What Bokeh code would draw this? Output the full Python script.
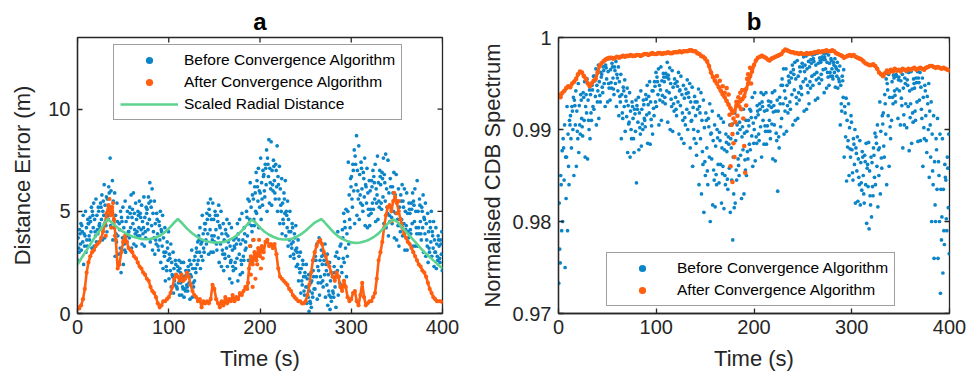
from bokeh.plotting import figure
from bokeh.layouts import row
from bokeh.models import Range1d, FixedTicker, Legend, LegendItem, CustomJSTickFormatter
from bokeh.embed import file_html
from bokeh.resources import INLINE

# ---------------- data ----------------
X_TICKS = [0, 100, 200, 300, 400]
Y_TICKS_A = [0, 5, 10]
Y_TICKS_B = [0.97, 0.98, 0.99, 1.0]

# panel a : scaled radial distance (green line)
green_t = [0, 5, 10, 15, 20, 25, 30, 33, 35, 40, 45, 50, 55, 60, 65, 70, 75, 80, 85, 90,
           95, 100, 105, 110, 115, 120, 125, 130, 135, 140, 145, 150, 155, 160, 165, 170,
           175, 180, 185, 191, 195, 200, 205, 210, 215, 220, 225, 230, 235, 240, 245, 250,
           255, 260, 267, 270, 275, 280, 285, 290, 295, 300, 305, 310, 315, 320, 325, 330,
           335, 340, 346, 350, 355, 360, 365, 370, 375, 380, 385, 390, 395, 400]
green_v = [2.4, 2.75, 3.1, 3.45, 3.8, 4.1, 4.45, 4.62, 4.55, 4.35, 4.15, 4.0, 3.87, 3.77,
           3.7, 3.65, 3.63, 3.65, 3.7, 3.8, 3.95, 4.15, 4.4, 4.62, 4.4, 4.15, 3.95, 3.78,
           3.65, 3.55, 3.5, 3.47, 3.47, 3.5, 3.57, 3.68, 3.83, 4.05, 4.3, 4.6, 4.45, 4.2,
           4.0, 3.85, 3.74, 3.66, 3.62, 3.62, 3.66, 3.75, 3.88, 4.05, 4.25, 4.45, 4.62, 4.5,
           4.25, 4.0, 3.8, 3.65, 3.55, 3.48, 3.45, 3.47, 3.53, 3.62, 3.75, 3.92, 4.15, 4.4,
           4.6, 4.5, 4.25, 4.0, 3.75, 3.5, 3.25, 3.0, 2.8, 2.6, 2.4, 2.2]

# panel a : after convergence (every 2 s, t = 0..400)
ORANGE_STEP = 2
orange_a = [
    0.3, 0.25, 0.4, 0.7, 1.2, 2.0, 2.5, 2.8, 3.0, 3.1,
    3.3, 3.4, 3.5, 3.7, 4.0, 4.4, 4.9, 5.3, 4.8, 5.2,
    4.6, 3.6, 2.2, 2.4, 3.0, 3.5, 3.8, 3.5, 3.2, 3.1,
    3.0, 2.8, 2.7, 2.5, 2.3, 2.2, 2.0, 1.9, 1.7, 1.6,
    1.3, 1.1, 1.0, 0.8, 0.5, 0.3, 0.4, 0.6, 0.6, 0.7,
    0.8, 1.0, 1.3, 1.7, 1.9, 1.8, 1.6, 1.9, 1.6, 1.7,
    2.0, 1.8, 1.4, 1.1, 0.9, 0.8, 0.6, 0.7, 0.3, 0.6,
    0.5, 0.6, 0.5, 0.7, 1.4, 1.2, 0.7, 0.5, 0.3, 0.6,
    0.4, 0.8, 0.5, 0.7, 0.6, 0.9, 0.6, 0.8, 0.7, 1.0,
    0.9, 1.1, 1.3, 1.2, 2.2, 2.8, 2.4, 3.0, 2.6, 3.2,
    2.8, 3.3, 3.0, 3.5, 3.6, 3.3, 3.4, 3.2, 3.4, 2.9,
    2.2, 1.8, 1.7, 1.6, 1.5, 1.4, 1.2, 1.1, 0.9, 0.8,
    0.7, 0.6, 0.6, 0.5, 0.5, 0.6, 0.9, 1.4, 2.0, 2.6,
    3.0, 3.3, 3.5, 3.6, 3.4, 3.0, 2.8, 2.5, 2.3, 2.0,
    1.8, 1.6, 2.0, 1.8, 1.3, 1.1, 1.6, 1.3, 0.8, 0.6,
    0.7, 1.0, 1.1, 0.6, 0.4, 0.9, 1.5, 0.8, 0.4, 0.5,
    0.6, 0.6, 0.8, 1.0, 1.7, 2.6, 3.0, 3.5, 4.2, 4.8,
    5.2, 5.3, 5.0, 5.5, 5.7, 5.4, 5.0, 4.6, 4.2, 3.9,
    3.7, 3.5, 3.4, 3.2, 3.0, 2.8, 2.6, 2.4, 2.3, 2.1,
    2.0, 1.8, 1.5, 1.2, 1.0, 0.8, 0.7, 0.6, 0.6, 0.6,
    0.55]
orange_a_extra_t = [31, 33, 35, 37, 39, 41, 187, 189, 190, 192, 193, 195, 197, 199, 201,
                    203, 344, 347, 350, 352, 355]
orange_a_extra_v = [3.8, 4.6, 5.6, 4.2, 5.4, 3.8, 1.5, 3.3, 1.9, 1.3, 3.6, 1.7, 2.4, 3.6,
                    2.2, 2.7, 4.5, 5.9, 4.9, 5.5, 4.4]

# panel a : before convergence, readings per 4 s window (spread + dense core)
BUCKET = 4
blue_a = [
    [2.6, 3.0, 3.4, 3.7, 4.1, 4.4], [2.4, 3.1, 3.5, 3.9, 4.3, 4.8],
    [3.0, 3.3, 3.8, 4.2, 4.6, 5.0], [3.2, 3.6, 4.0, 4.4, 4.7, 5.2],
    [3.3, 3.8, 4.2, 4.6, 5.0, 5.4], [3.5, 3.9, 4.3, 4.8, 5.2, 5.6],
    [3.6, 4.2, 4.6, 5.0, 5.4, 5.8], [3.7, 4.3, 4.8, 5.3, 5.7, 6.3],
    [4.0, 4.6, 5.1, 5.6, 6.2, 7.6], [3.6, 4.3, 4.9, 5.5, 6.0, 6.5],
    [2.8, 3.5, 4.2, 4.8, 5.4, 5.9], [2.0, 2.5, 3.2, 3.8, 4.4, 5.0],
    [2.4, 3.1, 3.7, 4.2, 4.7, 5.2], [3.0, 3.5, 4.0, 4.5, 5.0, 5.5],
    [3.2, 3.7, 4.2, 4.7, 5.2, 5.8], [3.4, 3.9, 4.4, 4.9, 5.4, 5.9],
    [3.3, 3.8, 4.2, 4.6, 5.0, 5.5], [3.4, 3.8, 4.1, 4.5, 4.9, 5.3],
    [3.3, 3.7, 4.2, 4.7, 5.2, 5.7], [3.5, 4.1, 4.6, 5.1, 5.7, 6.4],
    [3.1, 3.7, 4.3, 4.9, 5.5, 6.1], [2.9, 3.4, 3.9, 4.4, 4.9, 5.5],
    [2.5, 3.1, 3.6, 4.1, 4.5, 5.0], [2.2, 2.8, 3.3, 3.7, 4.2, 4.8],
    [1.6, 2.1, 2.6, 3.0, 3.5, 4.0], [1.3, 1.7, 2.1, 2.5, 2.9, 3.4],
    [1.0, 1.4, 1.8, 2.2, 2.6, 3.0], [0.9, 1.2, 1.5, 1.9, 2.3, 2.6],
    [0.9, 1.2, 1.5, 1.8, 2.2, 2.5], [0.8, 1.1, 1.4, 1.8, 2.1, 2.5],
    [0.7, 1.1, 1.5, 1.9, 2.3, 2.6], [0.8, 1.3, 1.8, 2.2, 2.6, 3.1],
    [1.6, 2.0, 2.4, 2.8, 3.2, 3.5], [2.2, 2.6, 3.0, 3.4, 3.8, 4.2],
    [2.6, 3.0, 3.5, 3.9, 4.4, 4.8], [2.9, 3.4, 3.9, 4.4, 4.9, 5.4],
    [3.0, 3.6, 4.1, 4.6, 5.1, 5.6], [3.0, 3.5, 4.1, 4.6, 5.0, 5.4],
    [2.5, 3.1, 3.7, 4.3, 4.8, 5.3], [2.3, 2.9, 3.4, 3.9, 4.4, 5.0],
    [2.1, 2.7, 3.2, 3.6, 4.1, 4.6], [1.7, 2.3, 2.8, 3.3, 3.8, 4.4],
    [1.5, 2.1, 2.6, 3.1, 3.6, 4.2], [1.6, 2.2, 2.7, 3.2, 3.7, 4.4],
    [1.9, 2.4, 2.9, 3.4, 3.9, 4.6], [2.0, 2.6, 3.1, 3.6, 4.2, 4.9],
    [2.6, 3.2, 3.8, 4.4, 5.0, 5.6], [3.3, 4.0, 4.6, 5.2, 5.8, 6.4],
    [3.6, 4.3, 5.0, 5.6, 6.2, 6.9], [4.2, 4.9, 5.5, 6.0, 6.5, 7.1],
    [4.6, 5.3, 5.9, 6.4, 7.0, 7.6], [5.0, 5.7, 6.3, 6.8, 7.3, 8.0],
    [5.4, 6.1, 6.7, 7.1, 7.6, 8.5], [5.3, 6.0, 6.5, 7.0, 7.5, 8.4],
    [5.0, 5.6, 6.2, 6.7, 7.3, 8.2], [4.4, 5.0, 5.6, 6.1, 6.6, 7.2],
    [3.9, 4.4, 4.9, 5.4, 5.9, 6.5], [3.3, 3.8, 4.2, 4.6, 5.0, 5.5],
    [2.8, 3.2, 3.6, 4.0, 4.4, 5.0], [2.3, 2.7, 3.1, 3.5, 3.9, 4.3],
    [1.6, 2.0, 2.4, 2.8, 3.2, 3.6], [1.0, 1.4, 1.8, 2.2, 2.6, 3.0],
    [0.5, 0.9, 1.3, 1.7, 2.0, 2.4], [0.1, 0.5, 0.8, 1.1, 1.5, 1.9],
    [0.3, 0.8, 1.2, 1.6, 2.1, 2.6], [0.7, 1.2, 1.8, 2.3, 2.8, 3.4],
    [0.9, 1.5, 2.1, 2.6, 3.1, 3.7], [0.8, 1.3, 1.9, 2.4, 2.9, 3.4],
    [0.4, 0.9, 1.4, 1.9, 2.4, 2.9], [0.2, 0.6, 1.1, 1.6, 2.0, 2.5],
    [0.3, 0.8, 1.3, 1.8, 2.3, 2.8], [0.9, 1.5, 2.1, 2.7, 3.3, 4.0],
    [1.4, 2.0, 2.7, 3.4, 4.1, 4.9], [1.8, 2.5, 3.2, 3.9, 4.5, 5.1],
    [3.4, 4.2, 5.0, 5.8, 6.6, 7.4], [4.4, 5.2, 6.0, 6.7, 7.3, 8.0],
    [4.8, 5.6, 6.3, 7.0, 7.7, 8.7], [4.6, 5.4, 6.1, 6.8, 7.4, 8.2],
    [4.3, 5.0, 5.7, 6.3, 6.9, 7.6], [4.2, 4.8, 5.4, 5.9, 6.5, 7.1],
    [4.3, 4.9, 5.4, 6.0, 6.5, 7.0], [4.5, 5.1, 5.6, 6.1, 6.7, 7.3],
    [4.6, 5.2, 5.8, 6.4, 7.0, 7.7], [4.4, 5.1, 5.7, 6.3, 6.9, 7.6],
    [4.2, 4.9, 5.5, 6.1, 6.8, 7.8], [3.8, 4.5, 5.2, 5.9, 6.6, 7.5],
    [3.7, 4.4, 5.0, 5.6, 6.2, 6.9], [3.6, 4.3, 4.9, 5.5, 6.1, 6.8],
    [3.3, 4.0, 4.6, 5.2, 5.8, 6.3], [3.1, 3.8, 4.4, 5.0, 5.5, 6.1],
    [3.1, 3.7, 4.3, 4.9, 5.4, 5.9], [3.3, 3.9, 4.4, 4.9, 5.4, 5.9],
    [3.3, 3.9, 4.5, 5.0, 5.5, 6.1], [3.3, 3.9, 4.5, 5.0, 5.6, 6.5],
    [3.0, 3.6, 4.2, 4.7, 5.2, 5.8], [2.8, 3.3, 3.9, 4.4, 4.9, 5.4],
    [2.5, 3.0, 3.5, 4.0, 4.5, 5.0], [2.3, 2.8, 3.2, 3.6, 4.0, 4.5],
    [2.2, 2.6, 3.0, 3.4, 3.8, 4.2], [2.1, 2.5, 2.9, 3.3, 3.6, 4.0],
]
blue_a_core = [
    [3.2, 3.9], [3.3, 4.0], [3.6, 4.4], [3.8, 4.5], [4.0, 4.8], [4.1, 5.0], [4.4, 5.2],
    [4.5, 5.5], [4.8, 5.9], [4.6, 5.2], [3.9, 4.5], [2.9, 4.1], [3.4, 4.5], [3.8, 4.7],
    [4.0, 4.9], [4.1, 5.1], [4.0, 4.8], [3.9, 4.7], [4.0, 4.9], [4.4, 5.4], [4.0, 5.2],
    [3.6, 4.6], [3.3, 4.3], [3.0, 4.0], [2.3, 3.2], [1.9, 2.7], [1.6, 2.4], [1.3, 2.1],
    [1.3, 2.0], [1.2, 1.9], [1.3, 2.1], [1.5, 2.4], [2.2, 3.0], [2.8, 3.6], [3.2, 4.1],
    [3.6, 4.6], [3.8, 4.8], [3.8, 4.8], [3.4, 4.5], [3.1, 4.2], [2.9, 3.9], [2.5, 3.5],
    [2.3, 3.3], [2.5, 3.4], [2.6, 3.6], [2.8, 3.9], [3.5, 4.7], [4.3, 5.5], [4.6, 5.9],
    [5.2, 6.2], [5.6, 6.7], [6.0, 7.1], [6.4, 7.3], [6.3, 7.2], [5.9, 7.0], [5.3, 6.3],
    [4.6, 5.6], [4.0, 4.8], [3.4, 4.2], [2.9, 3.7], [2.2, 3.0], [1.6, 2.4], [1.1, 1.8],
    [0.6, 1.3], [1.0, 1.8], [1.5, 2.6], [1.8, 2.8], [1.6, 2.6], [1.1, 2.1], [0.8, 1.8],
    [1.0, 2.0], [1.8, 3.0], [2.3, 3.7], [2.8, 4.2], [4.6, 6.2], [5.6, 7.0], [6.0, 7.3],
    [5.8, 7.1], [5.3, 6.6], [5.1, 6.2], [5.1, 6.2], [5.4, 6.4], [5.5, 6.7], [5.4, 6.6],
    [5.2, 6.4], [4.8, 6.2], [4.7, 5.9], [4.6, 5.8], [4.3, 5.5], [4.1, 5.2], [4.0, 5.1],
    [4.1, 5.1], [4.2, 5.3], [4.2, 5.3], [3.9, 5.0], [3.6, 4.6], [3.2, 4.2], [3.0, 3.8],
    [2.8, 3.6], [2.7, 3.4],
]

# panel b : after convergence (every 2 s, t = 0..400)
orange_b = [
    0.9938, 0.9935, 0.9940, 0.9942, 0.9945, 0.9947, 0.9946, 0.9950, 0.9952, 0.9955,
    0.9960, 0.9963, 0.9962, 0.9958, 0.9955, 0.9950, 0.9947, 0.9950, 0.9953, 0.9955,
    0.9962, 0.9969, 0.9972, 0.9974, 0.9976, 0.9977, 0.9978, 0.9978, 0.9977, 0.9978,
    0.9979, 0.9978, 0.9979, 0.9980, 0.9979, 0.9980, 0.9980, 0.9981, 0.9980, 0.9980,
    0.9981, 0.9981, 0.9980, 0.9981, 0.9982, 0.9982, 0.9981, 0.9982, 0.9983, 0.9982,
    0.9982, 0.9983, 0.9983, 0.9982, 0.9983, 0.9983, 0.9984, 0.9983, 0.9983, 0.9984,
    0.9984, 0.9984, 0.9985, 0.9984, 0.9985, 0.9985, 0.9985, 0.9986, 0.9986, 0.9985,
    0.9985, 0.9983, 0.9982, 0.9980, 0.9979, 0.9977, 0.9974, 0.9969, 0.9962, 0.9957,
    0.9953, 0.9950, 0.9946, 0.9942, 0.9938, 0.9935, 0.9931, 0.9927, 0.9923, 0.9918,
    0.9920, 0.9926, 0.9929, 0.9931, 0.9933, 0.9936, 0.9944, 0.9950, 0.9958, 0.9963,
    0.9970, 0.9975, 0.9978, 0.9979, 0.9980, 0.9979, 0.9978, 0.9976, 0.9975, 0.9977,
    0.9978, 0.9979, 0.9980, 0.9981, 0.9982, 0.9985, 0.9987, 0.9986, 0.9985, 0.9984,
    0.9984, 0.9983, 0.9983, 0.9982, 0.9983, 0.9982, 0.9982, 0.9983, 0.9982, 0.9983,
    0.9983, 0.9984, 0.9984, 0.9985, 0.9984, 0.9985, 0.9985, 0.9986, 0.9985, 0.9985,
    0.9986, 0.9985, 0.9983, 0.9982, 0.9981, 0.9980, 0.9978, 0.9979, 0.9980, 0.9981,
    0.9980, 0.9981, 0.9979, 0.9978, 0.9977, 0.9976, 0.9974, 0.9972, 0.9971, 0.9970,
    0.9970, 0.9971, 0.9969, 0.9966, 0.9962, 0.9960, 0.9958, 0.9961, 0.9964, 0.9962,
    0.9965, 0.9963, 0.9966, 0.9964, 0.9965, 0.9963, 0.9966, 0.9965, 0.9964, 0.9966,
    0.9965, 0.9966, 0.9967, 0.9965, 0.9966, 0.9967, 0.9966, 0.9965, 0.9967, 0.9968,
    0.9969, 0.9969, 0.9968, 0.9967, 0.9968, 0.9967, 0.9966, 0.9967, 0.9966, 0.9965,
    0.9964]
orange_b_extra_t = [162, 165, 168, 170, 172, 174, 175, 176, 177, 178, 178, 179, 179, 180,
                    181, 182, 183, 184, 185, 186, 187, 188, 189, 190, 191, 192, 193, 194,
                    196, 197]
orange_b_extra_v = [0.9958, 0.9953, 0.9947, 0.9940, 0.9945, 0.9938, 0.9916, 0.9860,
                    0.9905, 0.9895, 0.9843, 0.9885, 0.9912, 0.9870, 0.9908, 0.9930,
                    0.9915, 0.9935, 0.9925, 0.9940, 0.9922, 0.9943, 0.9912, 0.9882,
                    0.9853, 0.9926, 0.9955, 0.9960, 0.9967, 0.9950]

# panel b : before convergence, readings per 4 s window (spread + dense core)
blue_b = [
    [0.9733, 0.9755, 0.9790, 0.9820, 0.9850, 0.9877], [0.9750, 0.9800, 0.9845, 0.9870, 0.9890, 0.9905],
    [0.9790, 0.9840, 0.9870, 0.9895, 0.9910, 0.9925], [0.9850, 0.9880, 0.9900, 0.9915, 0.9925, 0.9935],
    [0.9860, 0.9890, 0.9905, 0.9920, 0.9932, 0.9942], [0.9875, 0.9895, 0.9912, 0.9926, 0.9938, 0.9950],
    [0.9870, 0.9893, 0.9910, 0.9925, 0.9940, 0.9952], [0.9868, 0.9900, 0.9918, 0.9932, 0.9943, 0.9955],
    [0.9890, 0.9910, 0.9925, 0.9938, 0.9948, 0.9958], [0.9905, 0.9922, 0.9936, 0.9948, 0.9958, 0.9966],
    [0.9912, 0.9930, 0.9942, 0.9952, 0.9962, 0.9970], [0.9925, 0.9940, 0.9950, 0.9960, 0.9968, 0.9975],
    [0.9930, 0.9945, 0.9955, 0.9963, 0.9970, 0.9977], [0.9932, 0.9945, 0.9956, 0.9965, 0.9972, 0.9977],
    [0.9925, 0.9938, 0.9950, 0.9960, 0.9968, 0.9974], [0.9915, 0.9930, 0.9942, 0.9952, 0.9960, 0.9968],
    [0.9890, 0.9912, 0.9925, 0.9938, 0.9946, 0.9954], [0.9875, 0.9898, 0.9914, 0.9926, 0.9936, 0.9945],
    [0.9870, 0.9890, 0.9908, 0.9920, 0.9930, 0.9940], [0.9842, 0.9875, 0.9898, 0.9912, 0.9922, 0.9932],
    [0.9878, 0.9895, 0.9908, 0.9918, 0.9926, 0.9935], [0.9882, 0.9900, 0.9912, 0.9922, 0.9932, 0.9942],
    [0.9885, 0.9903, 0.9916, 0.9927, 0.9938, 0.9948], [0.9884, 0.9904, 0.9918, 0.9930, 0.9942, 0.9952],
    [0.9895, 0.9915, 0.9930, 0.9942, 0.9952, 0.9962], [0.9905, 0.9925, 0.9938, 0.9948, 0.9957, 0.9966],
    [0.9910, 0.9930, 0.9943, 0.9953, 0.9961, 0.9968], [0.9908, 0.9928, 0.9942, 0.9952, 0.9961, 0.9973],
    [0.9900, 0.9925, 0.9940, 0.9950, 0.9959, 0.9967], [0.9898, 0.9920, 0.9935, 0.9946, 0.9955, 0.9964],
    [0.9895, 0.9915, 0.9930, 0.9942, 0.9952, 0.9962], [0.9890, 0.9910, 0.9926, 0.9938, 0.9948, 0.9958],
    [0.9885, 0.9905, 0.9922, 0.9934, 0.9944, 0.9954], [0.9880, 0.9900, 0.9918, 0.9930, 0.9940, 0.9950],
    [0.9860, 0.9890, 0.9910, 0.9924, 0.9936, 0.9946], [0.9840, 0.9872, 0.9898, 0.9915, 0.9930, 0.9944],
    [0.9830, 0.9862, 0.9890, 0.9910, 0.9925, 0.9940], [0.9810, 0.9850, 0.9880, 0.9902, 0.9918, 0.9932],
    [0.9800, 0.9840, 0.9870, 0.9895, 0.9912, 0.9928], [0.9818, 0.9845, 0.9868, 0.9888, 0.9905, 0.9920],
    [0.9816, 0.9840, 0.9862, 0.9882, 0.9900, 0.9915], [0.9820, 0.9842, 0.9862, 0.9880, 0.9897, 0.9912],
    [0.9814, 0.9840, 0.9860, 0.9878, 0.9895, 0.9908], [0.9810, 0.9835, 0.9858, 0.9876, 0.9892, 0.9905],
    [0.9780, 0.9815, 0.9845, 0.9870, 0.9890, 0.9906], [0.9820, 0.9845, 0.9868, 0.9888, 0.9905, 0.9918],
    [0.9825, 0.9850, 0.9872, 0.9892, 0.9908, 0.9922], [0.9830, 0.9856, 0.9878, 0.9896, 0.9910, 0.9922],
    [0.9850, 0.9868, 0.9884, 0.9898, 0.9910, 0.9922], [0.9860, 0.9878, 0.9893, 0.9907, 0.9920, 0.9935],
    [0.9866, 0.9885, 0.9900, 0.9913, 0.9926, 0.9940], [0.9870, 0.9888, 0.9903, 0.9916, 0.9928, 0.9940],
    [0.9884, 0.9898, 0.9910, 0.9920, 0.9930, 0.9938], [0.9884, 0.9898, 0.9910, 0.9921, 0.9931, 0.9940],
    [0.9868, 0.9890, 0.9906, 0.9919, 0.9930, 0.9940], [0.9866, 0.9888, 0.9905, 0.9920, 0.9932, 0.9942],
    [0.9833, 0.9880, 0.9903, 0.9920, 0.9935, 0.9948], [0.9895, 0.9912, 0.9928, 0.9942, 0.9955, 0.9966],
    [0.9898, 0.9918, 0.9934, 0.9948, 0.9958, 0.9966], [0.9905, 0.9922, 0.9938, 0.9951, 0.9962, 0.9970],
    [0.9910, 0.9928, 0.9943, 0.9955, 0.9965, 0.9973], [0.9912, 0.9932, 0.9947, 0.9958, 0.9968, 0.9975],
    [0.9920, 0.9938, 0.9952, 0.9963, 0.9972, 0.9979], [0.9922, 0.9940, 0.9955, 0.9966, 0.9974, 0.9980],
    [0.9928, 0.9945, 0.9958, 0.9968, 0.9976, 0.9981], [0.9932, 0.9948, 0.9960, 0.9970, 0.9977, 0.9982],
    [0.9934, 0.9950, 0.9962, 0.9972, 0.9978, 0.9983], [0.9940, 0.9954, 0.9965, 0.9973, 0.9979, 0.9983],
    [0.9945, 0.9957, 0.9966, 0.9973, 0.9979, 0.9983], [0.9948, 0.9958, 0.9966, 0.9972, 0.9977, 0.9981],
    [0.9946, 0.9955, 0.9962, 0.9968, 0.9973, 0.9977], [0.9945, 0.9952, 0.9958, 0.9964, 0.9969, 0.9973],
    [0.9905, 0.9920, 0.9935, 0.9948, 0.9958, 0.9965], [0.9844, 0.9870, 0.9892, 0.9910, 0.9925, 0.9934],
    [0.9850, 0.9870, 0.9888, 0.9902, 0.9915, 0.9928], [0.9820, 0.9845, 0.9862, 0.9878, 0.9890, 0.9900],
    [0.9822, 0.9840, 0.9855, 0.9868, 0.9880, 0.9892], [0.9818, 0.9834, 0.9850, 0.9864, 0.9876, 0.9888],
    [0.9798, 0.9820, 0.9840, 0.9858, 0.9872, 0.9885], [0.9792, 0.9818, 0.9838, 0.9855, 0.9870, 0.9886],
    [0.9805, 0.9828, 0.9848, 0.9864, 0.9880, 0.9896], [0.9816, 0.9840, 0.9860, 0.9878, 0.9892, 0.9905],
    [0.9830, 0.9858, 0.9880, 0.9898, 0.9915, 0.9930], [0.9840, 0.9870, 0.9895, 0.9918, 0.9938, 0.9955],
    [0.9860, 0.9890, 0.9915, 0.9935, 0.9950, 0.9960], [0.9910, 0.9928, 0.9942, 0.9952, 0.9959, 0.9964],
    [0.9912, 0.9930, 0.9944, 0.9954, 0.9960, 0.9964], [0.9905, 0.9926, 0.9942, 0.9953, 0.9960, 0.9964],
    [0.9880, 0.9905, 0.9928, 0.9945, 0.9956, 0.9963], [0.9877, 0.9902, 0.9925, 0.9942, 0.9954, 0.9962],
    [0.9885, 0.9908, 0.9928, 0.9944, 0.9955, 0.9963], [0.9887, 0.9910, 0.9930, 0.9945, 0.9956, 0.9963],
    [0.9888, 0.9912, 0.9932, 0.9946, 0.9956, 0.9962], [0.9860, 0.9890, 0.9915, 0.9935, 0.9948, 0.9956],
    [0.9848, 0.9875, 0.9900, 0.9920, 0.9936, 0.9950], [0.9800, 0.9840, 0.9870, 0.9895, 0.9915, 0.9930],
    [0.9760, 0.9800, 0.9835, 0.9865, 0.9890, 0.9912], [0.9722, 0.9760, 0.9800, 0.9835, 0.9865, 0.9895],
    [0.9744, 0.9775, 0.9805, 0.9835, 0.9862, 0.9890], [0.9765, 0.9790, 0.9815, 0.9845, 0.9870, 0.9895],
]
blue_b_core = [
    [0.9770, 0.9840], [0.9825, 0.9880], [0.9860, 0.9905], [0.9890, 0.9920], [0.9898, 0.9926],
    [0.9905, 0.9932], [0.9903, 0.9935], [0.9910, 0.9938], [0.9918, 0.9943], [0.9930, 0.9953],
    [0.9937, 0.9957], [0.9946, 0.9964], [0.9950, 0.9967], [0.9951, 0.9968], [0.9944, 0.9964],
    [0.9936, 0.9956], [0.9918, 0.9942], [0.9906, 0.9931], [0.9900, 0.9925], [0.9890, 0.9917],
    [0.9902, 0.9922], [0.9906, 0.9927], [0.9910, 0.9933], [0.9911, 0.9936], [0.9923, 0.9947],
    [0.9932, 0.9952], [0.9937, 0.9957], [0.9935, 0.9957], [0.9933, 0.9955], [0.9928, 0.9950],
    [0.9922, 0.9947], [0.9918, 0.9943], [0.9913, 0.9939], [0.9909, 0.9935], [0.9900, 0.9930],
    [0.9885, 0.9922], [0.9876, 0.9918], [0.9865, 0.9910], [0.9855, 0.9903], [0.9856, 0.9896],
    [0.9851, 0.9891], [0.9852, 0.9888], [0.9850, 0.9886], [0.9846, 0.9884], [0.9830, 0.9880],
    [0.9856, 0.9896], [0.9861, 0.9900], [0.9867, 0.9903], [0.9876, 0.9904], [0.9885, 0.9913],
    [0.9892, 0.9920], [0.9895, 0.9922], [0.9904, 0.9925], [0.9904, 0.9926], [0.9898, 0.9924],
    [0.9896, 0.9926], [0.9892, 0.9928], [0.9920, 0.9948], [0.9926, 0.9953], [0.9930, 0.9956],
    [0.9935, 0.9960], [0.9940, 0.9963], [0.9945, 0.9968], [0.9948, 0.9970], [0.9952, 0.9972],
    [0.9954, 0.9974], [0.9956, 0.9975], [0.9960, 0.9976], [0.9962, 0.9976], [0.9962, 0.9975],
    [0.9958, 0.9970], [0.9955, 0.9966], [0.9928, 0.9953], [0.9881, 0.9918], [0.9879, 0.9908],
    [0.9853, 0.9884], [0.9848, 0.9874], [0.9842, 0.9870], [0.9830, 0.9865], [0.9828, 0.9862],
    [0.9838, 0.9872], [0.9850, 0.9885], [0.9869, 0.9906], [0.9882, 0.9928], [0.9903, 0.9943],
    [0.9935, 0.9956], [0.9937, 0.9958], [0.9934, 0.9957], [0.9916, 0.9950], [0.9913, 0.9948],
    [0.9918, 0.9950], [0.9920, 0.9951], [0.9922, 0.9951], [0.9902, 0.9942], [0.9888, 0.9928],
    [0.9855, 0.9905], [0.9818, 0.9878], [0.9780, 0.9850], [0.9790, 0.9848], [0.9803, 0.9858],
]

# ---------------- style ----------------
FONT = "Liberation Sans"
BLUE = "#0B84C8"
ORANGE = "#FF5F0F"
GREEN = "#5CD38E"
DARK = "#262626"
N_SLOTS = 8
TICK_PX = 5


def bucket_points(spread, core):
    xs, ys = [], []
    for i, (vals, cvals) in enumerate(zip(spread, core)):
        allv = list(vals) + list(cvals)
        for k, v in enumerate(allv):
            slot = (k * 3 + i * 5) % N_SLOTS
            xs.append(BUCKET * i + (slot + 0.5) * BUCKET / N_SLOTS)
            ys.append(v)
    return xs, ys


def make_fig(ylo, yhi, left, frame_w, right, title, ylabel, yticks, ylab_standoff, yfmt=None):
    p = figure(width=left + frame_w + right, height=373,
               min_border_left=left, min_border_right=right,
               min_border_top=37, min_border_bottom=58,
               x_range=Range1d(0, 400), y_range=Range1d(ylo, yhi),
               output_backend="svg", toolbar_location=None,
               background_fill_color="white", border_fill_color="white")
    p.grid.visible = False
    p.outline_line_color = DARK
    p.outline_line_width = 1.3
    p.title.text = title
    p.title.align = "center"
    p.title.text_font = FONT
    p.title.text_font_size = "24px"
    p.title.text_font_style = "bold"
    p.title.text_color = "black"
    p.title.standoff = 5
    for ax in (p.xaxis[0], p.yaxis[0]):
        ax.major_tick_in = TICK_PX
        ax.major_tick_out = 0
        ax.minor_tick_in = 0
        ax.minor_tick_out = 0
        ax.axis_line_color = DARK
        ax.axis_line_width = 1.3
        ax.major_tick_line_color = DARK
        ax.major_tick_line_width = 1.3
        ax.major_label_text_font = FONT
        ax.major_label_text_font_size = "20px"
        ax.major_label_text_color = DARK
        ax.axis_label_text_font = FONT
        ax.axis_label_text_font_size = "22px"
        ax.axis_label_text_font_style = "normal"
        ax.axis_label_text_color = DARK
    p.xaxis.ticker = FixedTicker(ticks=X_TICKS)
    p.yaxis.ticker = FixedTicker(ticks=yticks)
    if yfmt is not None:
        p.yaxis.formatter = yfmt
    p.xaxis.axis_label = "Time (s)"
    p.yaxis.axis_label = ylabel
    p.xaxis.major_label_standoff = 6
    p.xaxis.axis_label_standoff = 9
    p.yaxis.major_label_standoff = 7
    p.yaxis.axis_label_standoff = ylab_standoff
    # inward ticks on the top and right edges of the box
    dy = (yhi - ylo) * TICK_PX / 278.0
    dx = 400.0 * TICK_PX / frame_w
    p.segment(x0=X_TICKS, y0=[yhi] * len(X_TICKS), x1=X_TICKS, y1=[yhi - dy] * len(X_TICKS),
              line_color=DARK, line_width=1.3)
    p.segment(x0=[400] * len(yticks), y0=yticks, x1=[400 - dx] * len(yticks), y1=yticks,
              line_color=DARK, line_width=1.3)
    return p


def make_legend(items, loc):
    return Legend(items=items, location=loc, orientation="vertical",
                  label_text_font=FONT, label_text_font_size="15.5px",
                  label_text_color="black", glyph_width=58, glyph_height=18,
                  label_height=18, spacing=4, padding=6, margin=0, label_standoff=6,
                  border_line_color="#404040", border_line_width=1,
                  background_fill_color="white", background_fill_alpha=1.0)


# ---------- panel a ----------
pa = make_fig(0, 13.5, 77, 365, 32, "a", "Distance Error (m)", Y_TICKS_A, 10)
bxa, bya = bucket_points(blue_a, blue_a_core)
ta = [ORANGE_STEP * i for i in range(len(orange_a))]
ra_blue = pa.scatter(bxa, bya, size=3.7, fill_color=BLUE, line_color=None)
pa.line(ta, orange_a, line_color=ORANGE, line_width=2.6)
ra_or = pa.scatter(ta + orange_a_extra_t, orange_a + orange_a_extra_v, size=4.2,
                   fill_color=ORANGE, line_color=None)
ra_gr = pa.line(green_t, green_v, line_color=GREEN, line_width=2.6)
pa.add_layout(make_legend([
    LegendItem(label="Before Convergence Algorithm", renderers=[ra_blue]),
    LegendItem(label="After Convergence Algorithm", renderers=[ra_or]),
    LegendItem(label="Scaled Radial Distance", renderers=[ra_gr]),
], (36, 193)))

# ---------- panel b ----------
fmt_b = CustomJSTickFormatter(code="return tick > 0.9995 ? '1' : tick.toFixed(2);")
pb = make_fig(0.97, 1.0, 84, 391, 31, "b", "Normalised CDB Spectrum", Y_TICKS_B, 5, fmt_b)
bxb, byb = bucket_points(blue_b, blue_b_core)
tb = [ORANGE_STEP * i for i in range(len(orange_b))]
rb_blue = pb.scatter(bxb, byb, size=3.7, fill_color=BLUE, line_color=None)
pb.line(tb, orange_b, line_color=ORANGE, line_width=3.2)
rb_or = pb.scatter(tb + orange_b_extra_t, orange_b + orange_b_extra_v, size=4.6,
                   fill_color=ORANGE, line_color=None)
pb.add_layout(make_legend([
    LegendItem(label="Before Convergence Algorithm", renderers=[rb_blue]),
    LegendItem(label="After Convergence Algorithm", renderers=[rb_or]),
], (48, 7)))

layout = row(pa, pb)
open("out.html", "w").write(file_html(layout, INLINE))
